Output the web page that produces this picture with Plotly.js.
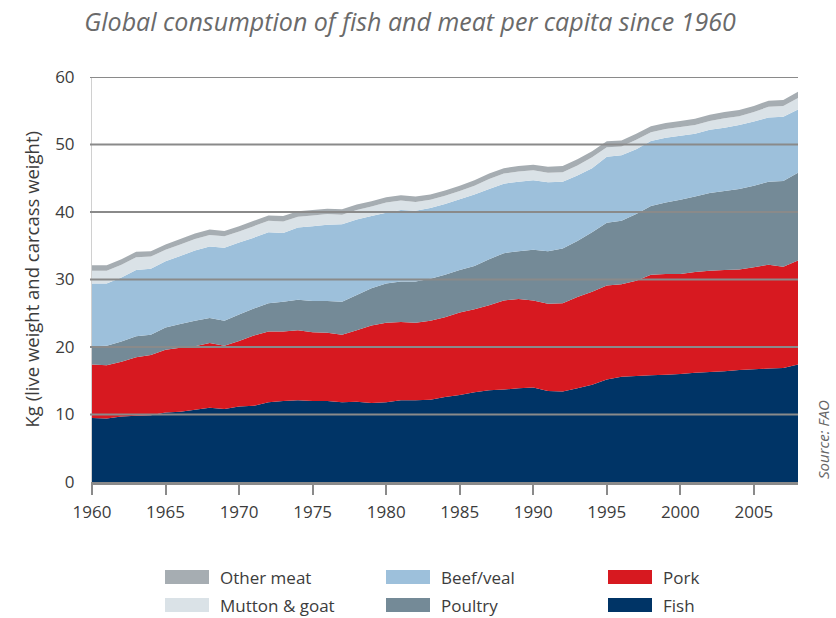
<!DOCTYPE html>
<html><head><meta charset="utf-8">
<script src="https://cdn.plot.ly/plotly-3.0.1.min.js"></script>
<style>html,body{margin:0;padding:0;background:#fff;} #chart{width:836px;height:618px;}</style>
</head><body><div id="chart"></div>
<script>
const years = [1960,1961,1962,1963,1964,1965,1966,1967,1968,1969,
  1970,1971,1972,1973,1974,1975,1976,1977,1978,1979,
  1980,1981,1982,1983,1984,1985,1986,1987,1988,1989,
  1990,1991,1992,1993,1994,1995,1996,1997,1998,1999,
  2000,2001,2002,2003,2004,2005,2006,2007,2008];
const fish = [9.5,9.4,9.7,9.8,9.9,10.3,10.4,10.7,11.0,10.8,
  11.2,11.3,11.8,12.0,12.1,12.0,12.0,11.8,11.9,11.7,
  11.8,12.1,12.1,12.2,12.6,12.9,13.3,13.6,13.7,13.9,
  14.0,13.5,13.4,13.9,14.4,15.2,15.6,15.7,15.8,15.9,
  16.0,16.2,16.3,16.4,16.6,16.7,16.8,16.9,17.4];
const pork = [7.9,7.9,8.1,8.7,8.9,9.3,9.5,9.4,9.6,9.4,
  9.7,10.4,10.5,10.3,10.4,10.2,10.1,10.0,10.6,11.5,
  11.8,11.6,11.5,11.7,11.8,12.2,12.3,12.6,13.2,13.2,
  12.9,12.9,13.1,13.5,13.8,13.9,13.7,14.1,14.9,14.9,
  14.8,14.9,15.0,15.0,14.9,15.1,15.4,15.0,15.4];
const poultry = [2.7,2.9,3.0,3.1,3.0,3.3,3.5,3.8,3.7,3.7,
  3.9,4.0,4.2,4.4,4.5,4.6,4.7,4.9,5.2,5.5,
  5.8,6.0,6.1,6.2,6.3,6.3,6.4,6.8,7.0,7.1,
  7.5,7.8,8.1,8.3,8.8,9.3,9.4,9.9,10.2,10.6,
  11.0,11.2,11.5,11.7,11.9,12.1,12.3,12.7,13.0];
const beefVeal = [9.3,9.2,9.5,9.8,9.8,9.8,10.1,10.4,10.6,10.8,
  10.7,10.5,10.5,10.2,10.7,11.1,11.3,11.5,11.2,10.7,
  10.5,10.6,10.5,10.5,10.5,10.5,10.6,10.4,10.3,10.3,
  10.3,10.2,9.9,9.7,9.5,9.8,9.7,9.6,9.6,9.6,
  9.5,9.3,9.4,9.4,9.5,9.5,9.5,9.5,9.4];
const muttonGoat = [1.9,1.9,1.9,1.9,1.8,1.7,1.7,1.7,1.7,1.7,
  1.6,1.7,1.7,1.7,1.6,1.6,1.6,1.4,1.4,1.4,
  1.5,1.4,1.3,1.2,1.2,1.2,1.3,1.5,1.5,1.5,
  1.5,1.4,1.4,1.5,1.6,1.4,1.3,1.4,1.3,1.3,
  1.3,1.3,1.3,1.4,1.3,1.4,1.6,1.6,1.7];
const otherMeat = [0.8,0.8,0.8,0.8,0.8,0.8,0.8,0.8,0.8,0.8,
  0.8,0.8,0.8,0.8,0.8,0.8,0.8,0.8,0.8,0.8,
  0.8,0.8,0.8,0.8,0.8,0.8,0.8,0.8,0.8,0.8,
  0.8,0.9,0.9,0.9,0.9,0.9,0.9,0.9,0.9,0.9,
  0.9,0.9,0.9,0.9,0.9,0.9,0.9,0.9,0.9];
const seriesNames = ['Fish','Pork','Poultry','Beef/veal','Mutton & goat','Other meat'];
const seriesValues = [fish, pork, poultry, beefVeal, muttonGoat, otherMeat];
const xTickVals = [1960,1965,1970,1975,1980,1985,1990,1995,2000,2005];
const yTickVals = [0,10,20,30,40,50,60];

const colors = {
  'Fish':'#003466', 'Pork':'#d71920', 'Poultry':'#748a97',
  'Beef/veal':'#9dc0db', 'Mutton & goat':'#dae2e7', 'Other meat':'#a6adb2'
};
const textColor = '#3c3c3c';
const gridColor = '#8a8a8a';
const font = 'Open Sans, Noto Sans, sans-serif';

const traces = seriesNames.map((name, i) => ({
  x: years, y: seriesValues[i], name: name,
  type: 'scatter', mode: 'none', stackgroup: 'one',
  fillcolor: colors[name], line: {width: 0},
  hoverinfo: 'skip', showlegend: false
}));

// plot area geometry (pixels) for positioning extras
const L = 92, T = 77, W = 706, H = 405;
const px = x => (x - L) / W;
const py = y => (T + H - y) / H;

const shapes = [];
yTickVals.filter(v => v > 0).forEach(v => shapes.push({
  type: 'line', xref: 'paper', yref: 'y', x0: px(90), x1: 1, y0: v, y1: v,
  line: {color: gridColor, width: 2}, layer: 'above'
}));

const annotations = [];
// custom legend grid
const legendCols = [['Other meat','Mutton & goat'], ['Beef/veal','Poultry'], ['Pork','Fish']];
const colX = [165, 386, 608];
const rowY = [577, 605];
legendCols.forEach((col, ci) => col.forEach((name, ri) => {
  shapes.push({type: 'rect', xref: 'paper', yref: 'paper',
    x0: px(colX[ci]), x1: px(colX[ci] + 44), y0: py(rowY[ri] + 7), y1: py(rowY[ri] - 7),
    fillcolor: colors[name], line: {width: 0}, layer: 'above'});
  annotations.push({text: name, xref: 'paper', yref: 'paper',
    x: px(colX[ci] + 53), y: py(rowY[ri]), xanchor: 'left', yanchor: 'middle',
    showarrow: false, font: {family: font, size: 17, color: textColor}});
}));
annotations.push({text: 'Kg (live weight and carcass weight)', textangle: -90,
  xref: 'paper', yref: 'paper', x: px(31), y: 0.5, xanchor: 'center', yanchor: 'middle',
  showarrow: false, font: {family: font, size: 18.5, color: textColor}});
annotations.push({text: 'Source: FAO', textangle: -90,
  xref: 'paper', yref: 'paper', x: px(823), y: py(440), xanchor: 'center', yanchor: 'middle',
  showarrow: false, font: {family: font, size: 15, color: '#666', style: 'italic'}});

const layout = {
  width: 836, height: 618,
  margin: {l: L, r: 836 - L - W, t: T, b: 618 - T - H, pad: 0},
  paper_bgcolor: '#fff', plot_bgcolor: '#fff',
  title: {text: 'Global consumption of fish and meat per capita since 1960',
    font: {family: font, size: 25, color: '#6a6a6a', style: 'italic'},
    xref: 'container', yref: 'container', x: 410/836, xanchor: 'center', y: 1 - 22/618, yanchor: 'middle'},
  xaxis: {range: [1960, 2008], tickvals: xTickVals, ticks: 'outside', ticklen: 10, tickwidth: 2,
    tickcolor: gridColor, showline: true, linecolor: gridColor, linewidth: 3, layer: 'above traces',
    showgrid: false, zeroline: false, ticklabelstandoff: 3,
    tickfont: {family: font, size: 17, color: textColor}, fixedrange: true},
  yaxis: {range: [0, 60], tickvals: yTickVals, ticks: '', showgrid: false, zeroline: false,
    showline: true, linecolor: '#d0d0d0', linewidth: 1, ticklabelstandoff: 13,
    tickfont: {family: font, size: 17, color: textColor}, fixedrange: true},
  shapes: shapes, annotations: annotations, showlegend: false
};
Plotly.newPlot('chart', traces, layout, {displayModeBar: false, staticPlot: true});
</script></body></html>
